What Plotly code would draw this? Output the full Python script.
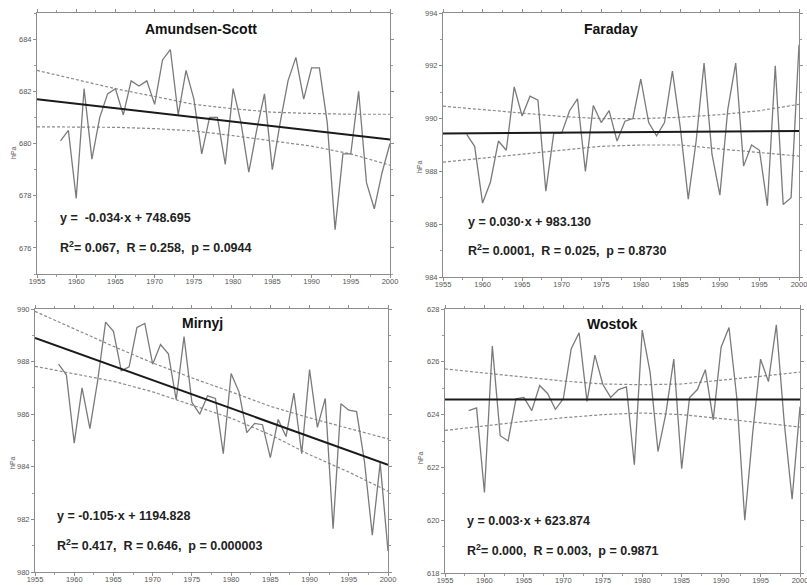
import plotly.graph_objects as go

W, H = 807, 585

years = list(range(1958, 2001))

# Surface pressure (hPa)
amundsen = [680.1, 680.5, 677.9, 682.1, 679.4, 681.0, 681.9, 682.1, 681.1, 682.4,
            682.2, 682.4, 681.5, 683.2, 683.6, 681.1, 682.8, 681.7, 679.6, 681.0,
            681.0, 679.2, 682.1, 680.8, 678.9, 680.5, 681.9, 679.0, 680.8, 682.4,
            683.3, 681.7, 682.9, 682.9, 680.8, 676.7, 679.6, 679.6, 682.0, 678.5,
            677.5, 678.9, 680.0]
faraday = [989.4, 988.95, 986.8, 987.6, 989.15, 988.8, 991.2, 990.1, 990.85, 990.7,
           987.25, 989.45, 989.45, 990.3, 990.75, 988.0, 990.5, 989.85, 990.3, 989.15,
           989.9, 990.0, 991.5, 989.85, 989.35, 989.85, 991.8, 989.65, 986.95, 989.15,
           992.1, 988.65, 987.1, 990.35, 992.1, 988.2, 989.0, 988.8, 986.7, 992.0,
           986.75, 987.0, 992.8]
mirnyj = [987.9, 987.5, 984.9, 987.0, 985.45, 987.3, 989.5, 989.15, 987.65, 987.8,
          989.3, 989.45, 987.9, 988.65, 988.3, 986.55, 988.95, 986.45, 986.0, 986.7,
          986.6, 984.5, 987.55, 986.85, 985.3, 985.65, 985.6, 984.35, 985.8, 985.15,
          986.8, 984.5, 987.7, 985.5, 986.6, 981.65, 986.4, 986.15, 986.1, 984.2,
          981.4, 984.15, 980.8]
wostok = [624.15, 624.25, 621.05, 626.6, 623.2, 623.0, 624.6, 624.65, 624.15, 625.1,
          624.8, 624.2, 624.6, 626.5, 627.1, 624.5, 626.25, 625.15, 624.65, 624.95,
          625.05, 622.1, 627.2, 625.6, 622.6, 624.05, 626.1, 621.95, 624.65, 624.95,
          625.7, 623.8, 626.55, 627.3, 624.6, 620.0, 623.3, 626.1, 625.25, 627.4,
          623.7, 620.8, 624.3]

# Linear trend end points (1955, 2000)
trend_years = [1955, 2000]
amundsen_trend = [681.7, 680.15]
faraday_trend = [989.44, 989.53]
mirnyj_trend = [988.9, 984.08]
wostok_trend = [624.57, 624.57]

# Confidence band values
band_years = [1955, 1965, 1970, 1975, 1980, 1985, 1990, 1995, 2000]
amundsen_upper = [682.8, 682.1, 681.8, 681.5, 681.33, 681.2, 681.15, 681.12, 681.12]
amundsen_lower = [680.64, 680.62, 680.57, 680.48, 680.3, 680.1, 679.9, 679.6, 679.17]
faraday_upper = [990.47, 990.22, 990.08, 990.0, 990.0, 990.05, 990.15, 990.3, 990.54]
faraday_lower = [988.35, 988.65, 988.82, 988.95, 989.0, 989.0, 988.85, 988.72, 988.58]
mirnyj_upper = [989.91, 988.58, 987.95, 987.38, 986.85, 986.3, 985.86, 985.45, 985.06]
mirnyj_lower = [987.82, 987.25, 986.85, 986.36, 985.85, 985.22, 984.46, 983.8, 983.07]
wostok_upper = [625.73, 625.41, 625.27, 625.16, 625.13, 625.16, 625.3, 625.45, 625.61]
wostok_lower = [623.4, 623.74, 623.88, 624.0, 624.06, 624.0, 623.85, 623.7, 623.53]

titles = ["Amundsen-Scott", "Faraday", "Mirnyj", "Wostok"]
equations = ["y =  -0.034·x + 748.695", "y = 0.030·x + 983.130",
             "y = -0.105·x + 1194.828", "y = 0.003·x + 623.874"]
stats = ["R<sup>2</sup>= 0.067,  R = 0.258,  p = 0.0944",
         "R<sup>2</sup>= 0.0001,  R = 0.025,  p = 0.8730",
         "R<sup>2</sup>= 0.417,  R = 0.646,  p = 0.000003",
         "R<sup>2</sup>= 0.000,  R = 0.003,  p = 0.9871"]
y_ranges = [[675, 685], [984, 994], [980, 990], [618, 628]]
x_ticks = list(range(1955, 2001, 5))
y_label = "hPa"

series = [amundsen, faraday, mirnyj, wostok]
trends = [amundsen_trend, faraday_trend, mirnyj_trend, wostok_trend]
uppers = [amundsen_upper, faraday_upper, mirnyj_upper, wostok_upper]
lowers = [amundsen_lower, faraday_lower, mirnyj_lower, wostok_lower]

# panel pixel boxes: left, right, top, bottom
boxes = [(37, 390, 13, 274), (443, 799, 13, 277), (35, 388, 309, 572), (445, 800, 309, 573)]
title_pos = [(201, 29), (611, 29), (202, 323), (612, 324)]
eq_pos = [(58, 218, 247), (466, 222, 250), (55, 516, 545), (465, 521, 550)]
ylab_pos = [(14, 153), (419, 167), (12, 463), (420, 458)]

def px(x):
    return x / W

def py(y):
    return 1 - y / H

fig = go.Figure()
annotations = []
font = "Liberation Sans, Arial, sans-serif"

for i in range(4):
    xa = "x" if i == 0 else f"x{i+1}"
    ya = "y" if i == 0 else f"y{i+1}"
    l, r, t, b = boxes[i]
    fig.add_trace(go.Scatter(x=band_years, y=uppers[i], mode="lines", xaxis=xa, yaxis=ya,
                             line=dict(color="#8a8a8a", width=1.2, dash="3px,2px"),
                             showlegend=False, hoverinfo="skip"))
    fig.add_trace(go.Scatter(x=band_years, y=lowers[i], mode="lines", xaxis=xa, yaxis=ya,
                             line=dict(color="#8a8a8a", width=1.2, dash="3px,2px"),
                             showlegend=False, hoverinfo="skip"))
    fig.add_trace(go.Scatter(x=years, y=series[i], mode="lines", xaxis=xa, yaxis=ya,
                             line=dict(color="#7a7a7a", width=1.3),
                             showlegend=False))
    fig.add_trace(go.Scatter(x=trend_years, y=trends[i], mode="lines", xaxis=xa, yaxis=ya,
                             line=dict(color="#1a1a1a", width=2),
                             showlegend=False))
    axcommon = dict(showline=True, linecolor="#8c8c8c", linewidth=1, mirror="ticks",
                    ticks="outside", ticklen=3, tickcolor="#8c8c8c",
                    tickfont=dict(family=font, size=7.5, color="#555555"),
                    ticklabeloverflow="allow",
                    showgrid=False, zeroline=False, automargin=False)
    xkey = "xaxis" if i == 0 else f"xaxis{i+1}"
    ykey = "yaxis" if i == 0 else f"yaxis{i+1}"
    fig.layout[xkey] = dict(domain=[px(l), px(r)], anchor=ya, range=[1955, 2000],
                            tickvals=x_ticks, ticklabelstandoff=-3,
                            minor=dict(dtick=2.5, ticklen=2, ticks="outside",
                                       tickcolor="#9a9a9a"),
                            **axcommon)
    fig.layout[ykey] = dict(domain=[py(b), py(t)], anchor=xa, range=y_ranges[i],
                            dtick=2, minor=dict(dtick=1, ticklen=2, ticks="outside",
                                                tickcolor="#9a9a9a"),
                            **axcommon)
    tx, ty = title_pos[i]
    annotations.append(dict(x=px(tx), y=py(ty), xref="paper", yref="paper", text=f"<b>{titles[i]}</b>",
                            showarrow=False, font=dict(family=font, size=14, color="#111111"),
                            xanchor="center", yanchor="middle"))
    ex, ey1, ey2 = eq_pos[i]
    annotations.append(dict(x=px(ex), y=py(ey1), xref="paper", yref="paper", text=f"<b>{equations[i]}</b>",
                            showarrow=False, font=dict(family=font, size=12.5, color="#222222"),
                            xanchor="left", yanchor="middle"))
    annotations.append(dict(x=px(ex), y=py(ey2), xref="paper", yref="paper", text=f"<b>{stats[i]}</b>",
                            showarrow=False, font=dict(family=font, size=12.5, color="#222222"),
                            xanchor="left", yanchor="middle"))
    lx, ly = ylab_pos[i]
    annotations.append(dict(x=px(lx), y=py(ly), xref="paper", yref="paper", text=y_label,
                            showarrow=False, textangle=-90, font=dict(family=font, size=7, color="#555555"),
                            xanchor="center", yanchor="middle"))

fig.update_layout(width=W, height=H, margin=dict(l=0, r=0, t=0, b=0),
                  paper_bgcolor="white", plot_bgcolor="white", annotations=annotations,
                  showlegend=False)

fig.write_html("out.html", config={"displayModeBar": False},
               post_script="document.body.style.margin='0px';document.body.style.overflow='hidden';")
